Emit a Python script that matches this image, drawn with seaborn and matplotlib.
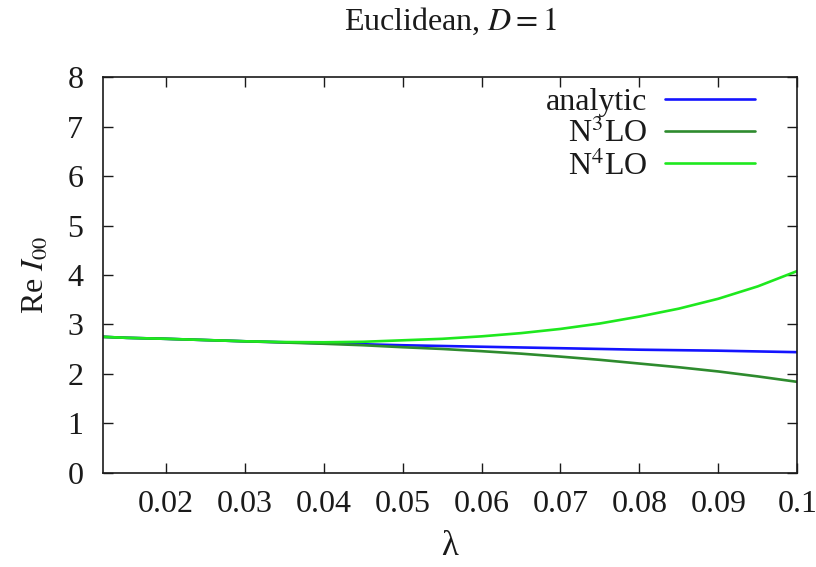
import numpy as np
import pandas as pd
import matplotlib
matplotlib.use("Agg")
import matplotlib.pyplot as plt
import seaborn as sns

lam = [0.012, 0.015, 0.02, 0.025, 0.03, 0.035, 0.04, 0.045, 0.05, 0.055, 0.06,
       0.065, 0.07, 0.075, 0.08, 0.085, 0.09, 0.095, 0.1]
analytic = [2.75, 2.73, 2.71, 2.685, 2.66, 2.64, 2.62, 2.60, 2.58, 2.565, 2.55,
            2.535, 2.52, 2.505, 2.49, 2.48, 2.47, 2.455, 2.44]
n3lo = [2.75, 2.73, 2.71, 2.685, 2.66, 2.635, 2.61, 2.58, 2.54, 2.505, 2.46,
        2.41, 2.35, 2.285, 2.21, 2.135, 2.05, 1.95, 1.84]
n4lo = [2.75, 2.73, 2.71, 2.685, 2.66, 2.645, 2.64, 2.65, 2.68, 2.71, 2.76,
        2.825, 2.91, 3.02, 3.16, 3.32, 3.52, 3.77, 4.08]
series_names = ["analytic", "N$^3$LO", "N$^4$LO"]
colors = ["#1414ff", "#2e8b2e", "#1ee81e"]

df = pd.DataFrame({
    "lam": lam * 3,
    "val": analytic + n3lo + n4lo,
    "series": [series_names[0]] * len(lam) + [series_names[1]] * len(lam) + [series_names[2]] * len(lam),
})

sns.set_style("ticks")
plt.rcParams["font.family"] = ["Liberation Serif", "DejaVu Serif"]
plt.rcParams["mathtext.fontset"] = "stix"
plt.rcParams["text.color"] = "#1a1a1a"
plt.rcParams["axes.labelcolor"] = "#1a1a1a"

fig = plt.figure(figsize=(8.16, 5.67), dpi=100)
ax = fig.add_axes([0.126, 0.166, 0.851, 0.698])
sns.lineplot(data=df, x="lam", y="val", hue="series", hue_order=series_names,
             palette=dict(zip(series_names, colors)), linewidth=1.9, ax=ax)

ax.set_xlim(0.012, 0.1)
ax.set_ylim(0, 8)
ax.set_xticks([0.02, 0.03, 0.04, 0.05, 0.06, 0.07, 0.08, 0.09, 0.1])
ax.set_xticklabels(["0.02", "0.03", "0.04", "0.05", "0.06", "0.07", "0.08", "0.09", "0.1"])
ax.set_yticks(range(0, 9))
ax.tick_params(direction="in", top=True, right=True, length=7, width=1,
               labelsize=23, colors="#1a1a1a")
ax.tick_params(axis="x", pad=12)
ax.tick_params(axis="y", pad=14)
for s in ax.spines.values():
    s.set_linewidth(1.2)
    s.set_color("#1a1a1a")

ax.set_xlabel("λ", fontsize=25, labelpad=8)
ax.set_ylabel("Re $I_{00}$", fontsize=23, labelpad=12)
ax.set_title("Euclidean, $D = 1$", fontsize=23, pad=34)

handles, labels = ax.get_legend_handles_labels()
ax.legend(handles, labels, loc="upper right", frameon=False, markerfirst=False,
          fontsize=23, handlelength=2.8, handletextpad=0.55, labelspacing=0.05,
          borderaxespad=0.0, bbox_to_anchor=(0.957, 1.005))

fig.savefig("out.png", dpi=100)
